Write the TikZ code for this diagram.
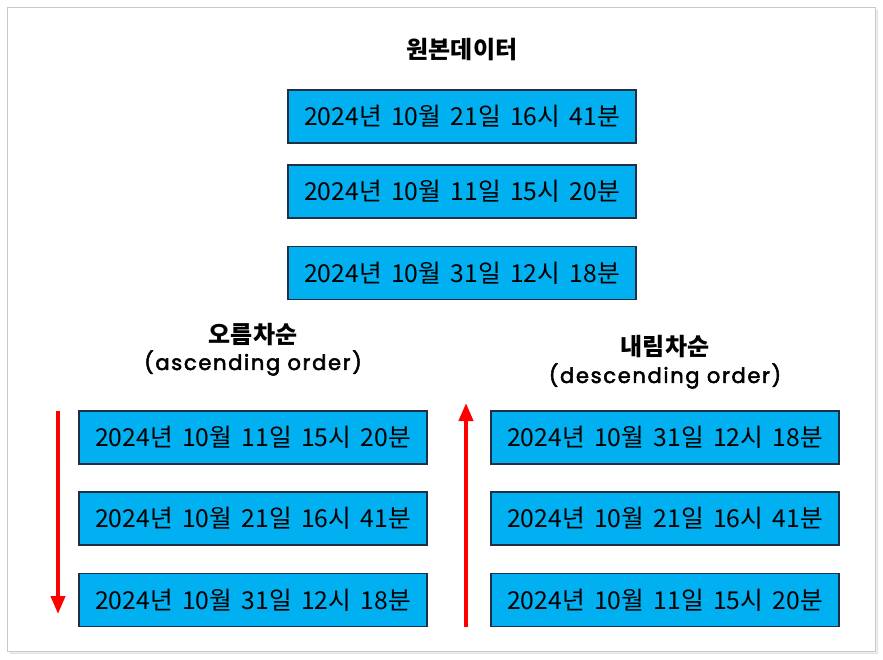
\documentclass[tikz,border=0pt]{standalone}
\usepackage{fontspec}
\setmainfont{Noto Sans CJK KR}
\newfontfamily\latfont{Poppins}[LetterSpace=8,FakeBold=2.5]
\usetikzlibrary{arrows.meta}
\definecolor{boxblue}{HTML}{00B0F0}
\definecolor{boxline}{HTML}{1F2F45}
\definecolor{framegray}{HTML}{C8C8C8}
\newcommand\myboxfont{\fontsize{24.7}{30}\selectfont\spaceskip=0.38em\relax}
\begin{document}
\begin{tikzpicture}[x=1pt,y=-1pt,
  databox/.style={draw=boxline, line width=1.2pt, fill=boxblue, minimum width=348pt, minimum height=53pt, inner sep=0pt, font=\myboxfont},
  titletext/.style={font=\fontsize{24}{28}\selectfont\bfseries},
  subtext/.style={font=\latfont\fontsize{21}{25}\selectfont},
  redarrow/.style={draw=red, line width=4pt, -{Triangle[width=14pt,length=18pt]}}]
\useasboundingbox (0,0) rectangle (883,659);
% outer frame with soft shadow
\fill[black!12] (10,10) rectangle (878,654);
\fill[black!6] (9,9) rectangle (877,653);
\draw[framegray, line width=1pt, fill=white] (7,7) rectangle (875,651);

% original data
\node[titletext] (t0) at (462,50) {원본데이터};
\node[databox] (o1) at (462,116.5) {2024년 10월 21일 16시 41분};
\node[databox] (o2) at (462,191.5) {2024년 10월 11일 15시 20분};
\node[databox] (o3) at (462,273) {2024년 10월 31일 12시 18분};

% ascending
\node[titletext] (ta) at (253,335) {오름차순};
\node[subtext] (sa) at (253,363) {(ascending order)};
\node[databox] (a1) at (253,437.5) {2024년 10월 11일 15시 20분};
\node[databox] (a2) at (253,518.5) {2024년 10월 21일 16시 41분};
\node[databox] (a3) at (253,600) {2024년 10월 31일 12시 18분};

% descending
\node[titletext] (td) at (665,347) {내림차순};
\node[subtext] (sd) at (665,376) {(descending order)};
\node[databox] (d1) at (665,437.5) {2024년 10월 31일 12시 18분};
\node[databox] (d2) at (665,518.5) {2024년 10월 21일 16시 41분};
\node[databox] (d3) at (665,600) {2024년 10월 11일 15시 20분};

% arrows
\coordinate (as) at (58,411);
\coordinate (ae) at (58,614);
\coordinate (ds) at (466,627);
\coordinate (de) at (466,403);
\draw[redarrow] (as) -- (ae);
\draw[redarrow] (ds) -- (de);
\end{tikzpicture}
\end{document}
